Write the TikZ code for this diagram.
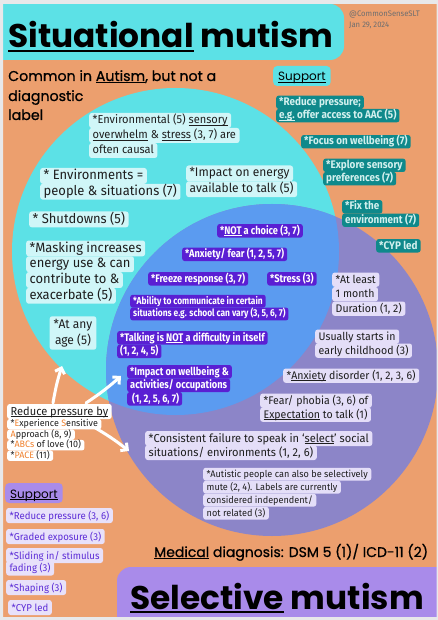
\documentclass[tikz,border=0pt]{standalone}
\usepackage{fontspec}
\setmainfont{Fira Sans}
\newfontfamily\bodyf[FakeStretch=0.96]{Fira Sans}
\newfontfamily\condf[FakeStretch=0.84]{Fira Sans}
\newfontfamily\tealf[FakeStretch=0.9]{Fira Sans}
\newfontfamily\popf{Poppins}
\newfontfamily\popm[FakeBold=0.8]{Poppins}
\usetikzlibrary{arrows.meta}
\definecolor{bgor}{HTML}{EC9F6E}
\definecolor{cyanc}{HTML}{5CE1E6}
\definecolor{purc}{HTML}{8C85C8}
\definecolor{bluec}{HTML}{5B9BF0}
\definecolor{cylite}{HTML}{D0F6F8}
\definecolor{tealc}{HTML}{0F898B}
\definecolor{tealtx}{HTML}{D2F0EE}
\definecolor{dpurp}{HTML}{5A1FD3}
\definecolor{lavlite}{HTML}{E4DEF8}
\definecolor{bslite}{HTML}{E8E1FA}
\definecolor{bstx}{HTML}{5B2BD6}
\definecolor{lavc}{HTML}{A98BEA}
\definecolor{ink}{HTML}{1E1E1E}
\definecolor{orx}{HTML}{F0802C}
\definecolor{framec}{HTML}{E8E8EA}
\definecolor{grayt}{HTML}{6E6E6E}
\newcommand\ulx[1]{\setbox0\hbox{#1}\rlap{\rule[-0.13em]{\wd0}{0.065em}}\box0\relax}
\tikzset{
 ln/.style={anchor=base west, rounded corners=2.5pt, inner ysep=0pt, inner xsep=3.5pt},
 cyb/.style={ln, fill=cylite, text=ink},
 tlb/.style={ln, fill=tealc, text=tealtx, inner xsep=3pt},
 dpb/.style={ln, fill=dpurp, text=white, inner xsep=3pt},
 lvb/.style={ln, fill=lavlite, text=ink},
 bsb/.style={ln, fill=bslite, text=bstx},
 whb/.style={ln, fill=white, text=ink},
 r135/.style={font=\bodyf\fontsize{13.5}{15.5}\selectfont, text height=11.5pt, text depth=4.3pt},
 r125/.style={font=\bodyf\fontsize{12.5}{15}\selectfont, text height=11.5pt, text depth=4.3pt},
 r115/.style={font=\bodyf\fontsize{11.5}{14}\selectfont, text height=11pt, text depth=4pt},
 r11/.style={font=\bodyf\fontsize{11}{13}\selectfont, text height=10.5pt, text depth=3.8pt},
 r10/.style={font=\bodyf\fontsize{10}{12}\selectfont, text height=11pt, text depth=4pt},
 r95/.style={font=\bodyf\fontsize{9.5}{12}\selectfont, text height=9.2pt, text depth=3.6pt},
 s95/.style={font=\bodyf\fontsize{9.3}{10.5}\selectfont, text height=7.6pt, text depth=2.9pt},
 b11/.style={font=\condf\bfseries\fontsize{11}{12.5}\selectfont, text height=10pt, text depth=3.6pt},
 b10/.style={font=\condf\bfseries\fontsize{10}{11}\selectfont, text height=9.2pt, text depth=3.6pt},
 bt/.style={font=\tealf\bfseries\fontsize{11}{12.5}\selectfont, text height=9.9pt, text depth=3.5pt},
 plain/.style={anchor=base west, inner sep=0pt},
 arr/.style={draw=white, line width=3pt, line cap=round, -{Straight Barb[length=5pt,width=10pt]}},
}
\begin{document}
\begin{tikzpicture}[x=1pt,y=-1pt]
\useasboundingbox (0,0) rectangle (438,620);
\fill[bgor] (0,0) rectangle (438,620);
% circles
\fill[cyanc] (175.5,251.5) circle[radius=163.5];
\fill[purc] (272,370) circle[radius=166];
\begin{scope}
\clip (175.5,251.5) circle[radius=163.5];
\fill[bluec] (272,370) circle[radius=166];
\end{scope}
% header / footer boxes
\fill[cyanc, rounded corners=14pt] (-20,4) rectangle (344,60);
\fill[lavc, rounded corners=14pt] (117,567) rectangle (470,650);
\node[plain, font=\popf\bfseries\fontsize{32.8}{36}\selectfont] (title) at (8,48) {\ulx{Situational} mutism};
\node[plain, font=\popf\bfseries\fontsize{32.8}{36}\selectfont] (sel) at (130,609) {\ulx{Selective} mutism};
\node[plain, text=grayt, font=\bodyf\fontsize{8}{9}\selectfont] (handle) at (349,17) {@CommonSenseSLT};
\node[plain, text=grayt, font=\bodyf\fontsize{8}{9}\selectfont] (date) at (349,28) {Jan 29, 2024};
\node[plain, font=\popm\fontsize{14.2}{18}\selectfont] (cm1) at (8,81) {Common in \ulx{Autism}, but not a};
\node[plain, font=\popm\fontsize{14.2}{18}\selectfont] (cm2) at (8,101) {diagnostic};
\node[plain, font=\popm\fontsize{14.2}{18}\selectfont] (cm3) at (8,120) {label};
\node[plain, font=\popm\fontsize{14}{16}\selectfont] (med) at (154,557) {\ulx{Medical} diagnosis: DSM 5 (1)/ ICD-11 (2)};
% support labels
\node[anchor=base west, fill=cyanc, rounded corners=4pt, inner xsep=5pt, inner ysep=0pt, text height=15pt, text depth=5pt, font=\popf\fontsize{12}{14}\selectfont] (suptop) at (273,81) {\ulx{Support}};
\node[anchor=base west, fill=lavc, rounded corners=4pt, inner xsep=5pt, inner ysep=0pt, text height=15pt, text depth=5pt, font=\popf\fontsize{12}{14}\selectfont] (supbot) at (5,498) {\ulx{Support}};
% arrows
\coordinate (a1s) at (53,403); \coordinate (a1e) at (62,366);
\coordinate (a2s) at (86,403); \coordinate (a2e) at (121,376);
\coordinate (a3s) at (92,426); \coordinate (a3e) at (129,451);
\draw[arr] (a1s) to[bend left=4] (a1e);
\draw[arr] (a2s) to[bend right=4] (a2e);
\draw[arr] (a3s) to[bend left=4] (a3e);
% cyan boxes
\node[cyb,r115] (env1) at (89,124) {*Environmental (5) \ulx{sensory}};
\node[cyb,r115] (env2) at (89,139) {\ulx{overwhelm} \& \ulx{stress} (3, 7) are};
\node[cyb,r115] (env3) at (89,154) {often causal};
\node[cyb,r135] (envs1) at (40,179.5) {* Environments =};
\node[cyb,r135] (envs2) at (40,195.3) {people \& situations (7)};
\node[cyb,r135] (shut) at (29,223) {* Shutdowns (5)};
\node[cyb,r135] (mask1) at (26,252) {*Masking increases};
\node[cyb,r135] (mask2) at (26,267.8) {energy use \& can};
\node[cyb,r135] (mask3) at (26,283.6) {contribute to \&};
\node[cyb,r135] (mask4) at (26,299.4) {exacerbate (5)};
\node[cyb,r125] (ie1) at (186,177) {*Impact on energy};
\node[cyb,r125] (ie2) at (186,192.8) {available to talk (5)};
\node[fill=cylite, text=ink, rounded corners=2.5pt, align=center, inner xsep=4pt, inner ysep=3pt, font=\bodyf\fontsize{12.5}{15.5}\selectfont] (age) at (73,333) {*At any\\age (5)};
% teal boxes
\node[tlb,bt] (tr1) at (276,105.5) {*Reduce pressure;};
\node[tlb,bt] (tr2) at (276,118.8) {\ulx{e.g.} offer access to AAC (5)};
\node[tlb,bt] (foc) at (301,145) {*Focus on wellbeing (7)};
\node[tlb,bt] (exp1) at (323,168.5) {*Explore sensory};
\node[tlb,bt] (exp2) at (323,181.9) {preferences (7)};
\node[tlb,bt] (fix1) at (342,210) {*Fix the};
\node[tlb,bt] (fix2) at (342,223.4) {environment (7)};
\node[tlb,bt] (cyp) at (376,249) {*CYP led};
% dark purple boxes
\node[dpb,b11] (notc) at (217,234) {*\ulx{NOT} a choice (3, 7)};
\node[dpb,b11] (anx) at (182,257.5) {*Anxiety/ fear (1, 2, 5, 7)};
\node[dpb,b11] (frz) at (148,282) {*Freeze response (3, 7)};
\node[dpb,b11] (strs) at (267,282) {*Stress (3)};
\node[dpb,b10] (abl1) at (130,304) {*Ability to communicate in certain};
\node[dpb,b10] (abl2) at (130,316.8) {situations e.g. school can vary (3, 5, 6, 7)};
\node[dpb,b11] (tlk1) at (117,341) {*Talking is \ulx{NOT} a difficulty in itself};
\node[dpb,b11] (tlk2) at (117,354.6) {(1, 2, 4, 5)};
\node[dpb,b11] (iw1) at (127,375) {*Impact on wellbeing \&};
\node[dpb,b11] (iw2) at (127,388.5) {activities/ occupations};
\node[dpb,b11] (iw3) at (127,402) {\hspace{2pt}(1, 2, 5, 6, 7)};
% lavender boxes
\node[lvb,r11] (al1) at (332,283) {*At least};
\node[lvb,r11] (al2) at (332,297.5) {1 month};
\node[lvb,r11] (al3) at (332,312) {Duration (1, 2)};
\node[lvb,r11] (us1) at (315,340) {Usually starts in};
\node[lvb,r11] (us2) at (315,354) {early childhood (3)};
\node[lvb,r11] (ad) at (283,379) {*\ulx{Anxiety} disorder (1, 2, 3, 6)};
\node[lvb,r11] (fe1) at (260,404) {*Fear/ phobia (3, 6) of};
\node[lvb,r11] (fe2) at (260,418) {\ulx{Expectation} to talk (1)};
\node[lvb,r115] (co1) at (145,442) {*Consistent failure to speak in ‘\ulx{select}’ social};
\node[lvb,r115] (co2) at (145,456) {situations/ environments (1, 2, 6)};
\node[lvb,r95] (au1) at (203,477) {*Autistic people can also be selectively};
\node[lvb,r95] (au2) at (203,490) {mute (2, 4). Labels are currently};
\node[lvb,r95] (au3) at (203,503) {considered independent/};
\node[lvb,r95] (au4) at (203,516) {not related (3)};
% white reduce pressure box
\node[whb,r115] (rpb1) at (7,415) {\ulx{Reduce pressure by}};
\node[whb,s95] (rpb2) at (7,426.5) {*{\color{orx}E}xperience {\color{orx}S}ensitive};
\node[whb,s95] (rpb3) at (7,437) {{\color{orx}A}pproach (8, 9)};
\node[whb,s95] (rpb4) at (7,447.5) {*{\color{orx}ABCs} of love (10)};
\node[whb,s95] (rpb5) at (7,458) {*{\color{orx}PACE} (11)};
% bottom support items
\node[bsb,r10] (bs1) at (6,519) {*Reduce pressure (3, 6)};
\node[bsb,r10] (bs2) at (6,540) {*Graded exposure (3)};
\node[bsb,r10] (bs3) at (6,559) {*Sliding in/ stimulus};
\node[bsb,r10] (bs4) at (6,571.5) {fading (3)};
\node[bsb,r10] (bs5) at (6,591) {*Shaping (3)};
\node[bsb,r10] (bs6) at (8,611) {*CYP led};
% frame
\fill[framec, even odd rule] (0,0) rectangle (438,620) (3,4) rectangle (436.5,617);
\end{tikzpicture}
\end{document}
